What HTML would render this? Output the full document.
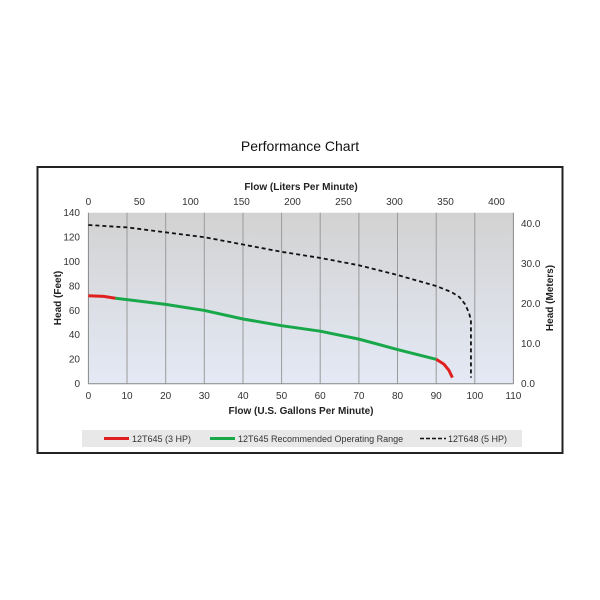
<!DOCTYPE html>
<html><head><style>body{margin:0;background:#fff}svg{display:block}</style></head><body>
<svg width="600" height="600" xmlns="http://www.w3.org/2000/svg" font-family="Liberation Sans, sans-serif">
<defs><linearGradient id="bg" x1="0" y1="0" x2="0" y2="1"><stop offset="0" stop-color="#d2d2d2"/><stop offset="1" stop-color="#e4e9f5"/></linearGradient></defs>
<text x="300" y="151" text-anchor="middle" font-size="14" fill="#111">Performance Chart</text>
<rect x="37.5" y="167" width="525" height="286" fill="#fff" stroke="#222" stroke-width="2"/>
<rect x="88.4" y="212.7" width="425" height="171" fill="url(#bg)"/>
<g stroke="#9a9a9a" stroke-width="1">
<line x1="127" y1="212.7" x2="127" y2="383.7"/><line x1="165.7" y1="212.7" x2="165.7" y2="383.7"/><line x1="204.3" y1="212.7" x2="204.3" y2="383.7"/><line x1="243" y1="212.7" x2="243" y2="383.7"/><line x1="281.6" y1="212.7" x2="281.6" y2="383.7"/><line x1="320.2" y1="212.7" x2="320.2" y2="383.7"/><line x1="358.9" y1="212.7" x2="358.9" y2="383.7"/><line x1="397.5" y1="212.7" x2="397.5" y2="383.7"/><line x1="436.2" y1="212.7" x2="436.2" y2="383.7"/><line x1="474.8" y1="212.7" x2="474.8" y2="383.7"/>
</g>
<g stroke="#888" stroke-width="1">
<line x1="88.4" y1="212.7" x2="88.4" y2="383.7"/><line x1="513.4" y1="212.7" x2="513.4" y2="383.7"/><line x1="88.4" y1="383.7" x2="513.4" y2="383.7"/>
</g>
<g font-size="10" fill="#333" text-anchor="end">
<text x="80" y="387">0</text><text x="80" y="362.6">20</text><text x="80" y="338.2">40</text><text x="80" y="313.8">60</text><text x="80" y="289.3">80</text><text x="80" y="264.9">100</text><text x="80" y="240.5">120</text><text x="80" y="216">140</text>
</g>
<g font-size="10" fill="#333" text-anchor="middle">
<text x="88.4" y="399">0</text><text x="127" y="399">10</text><text x="165.7" y="399">20</text><text x="204.3" y="399">30</text><text x="243" y="399">40</text><text x="281.6" y="399">50</text><text x="320.2" y="399">60</text><text x="358.9" y="399">70</text><text x="397.5" y="399">80</text><text x="436.2" y="399">90</text><text x="474.8" y="399">100</text><text x="513.4" y="399">110</text>
<text x="88.4" y="205">0</text><text x="139.4" y="205">50</text><text x="190.5" y="205">100</text><text x="241.5" y="205">150</text><text x="292.5" y="205">200</text><text x="343.5" y="205">250</text><text x="394.5" y="205">300</text><text x="445.5" y="205">350</text><text x="496.5" y="205">400</text>
</g>
<g font-size="10" fill="#333">
<text x="521" y="387">0.0</text><text x="521" y="347">10.0</text><text x="521" y="307">20.0</text><text x="521" y="267">30.0</text><text x="521" y="227">40.0</text>
</g>
<text x="301" y="190" text-anchor="middle" font-size="10" font-weight="bold" fill="#222">Flow (Liters Per Minute)</text>
<text x="301" y="414" text-anchor="middle" font-size="10" font-weight="bold" fill="#222">Flow (U.S. Gallons Per Minute)</text>
<text transform="translate(61,298) rotate(-90)" text-anchor="middle" font-size="10" font-weight="bold" fill="#222">Head (Feet)</text>
<text transform="translate(553,298) rotate(-90)" text-anchor="middle" font-size="10" font-weight="bold" fill="#222">Head (Meters)</text>
<g transform="translate(88.4,383.7) scale(3.864,-1.221)" fill="none">
<path d="M0,130 L10,128 L20,124 L30,120 L40,114 L50,108 L60,103 L70,97 L80,89 L90,80 L94,75 L96,71 L97.5,65 L98.5,58 L99,52 L99,5" stroke="#111" stroke-width="1.8" stroke-dasharray="4,3" vector-effect="non-scaling-stroke"/>
<path d="M0,72 L4,71.5 L7,70" stroke="#e02020" stroke-width="3" vector-effect="non-scaling-stroke"/>
<path d="M90,20 L92,16 L93.3,11 L94.2,5" stroke="#e02020" stroke-width="3" vector-effect="non-scaling-stroke"/>
<path d="M7,70 L20,65 L30,60 L40,53 L50,47.5 L60,43 L70,36.5 L80,28 L90,20" stroke="#18a84a" stroke-width="3" vector-effect="non-scaling-stroke"/>
</g>
<rect x="82" y="430" width="440" height="17" fill="#e8e8e8"/>
<line x1="104" y1="438.5" x2="129" y2="438.5" stroke="#e02020" stroke-width="3"/>
<text x="132" y="442" font-size="9" fill="#333">12T645 (3 HP)</text>
<line x1="210" y1="438.5" x2="235" y2="438.5" stroke="#18a84a" stroke-width="3"/>
<text x="238" y="442" font-size="9" fill="#333">12T645 Recommended Operating Range</text>
<line x1="420" y1="438.5" x2="446" y2="438.5" stroke="#111" stroke-width="1.5" stroke-dasharray="4,2"/>
<text x="448" y="442" font-size="9" fill="#333">12T648 (5 HP)</text>
</svg>
</body></html>
